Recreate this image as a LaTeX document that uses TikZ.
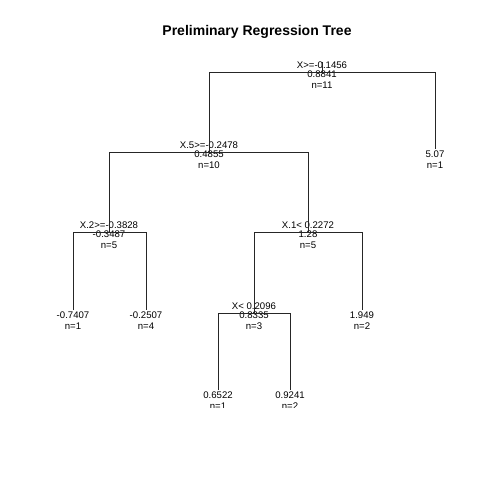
\documentclass[tikz,border=0pt]{standalone}
\usepackage{fontspec}
\setmainfont{Liberation Sans}
\begin{document}
\begin{tikzpicture}[x=1pt,y=-1pt,
  lab/.style={font=\fontsize{9.6}{11}\selectfont, anchor=base, inner sep=0pt},
  ttl/.style={font=\fontsize{14}{16}\bfseries\selectfont, anchor=base, inner sep=0pt},
  edge/.style={draw=black!85, line width=1pt}]
\useasboundingbox (0,0) rectangle (480,480);
\fill[white] (0,0) rectangle (480,480);
\node[ttl] (title) at (257,35.7) {Preliminary Regression Tree};
\clip (0,0) rectangle (480,407.5);
% labels
\node[lab] (t0a) at (322,68.5) {X>=-0.1456};
\node[lab] (t0b) at (322,77) {0.8841};
\node[lab] (t0c) at (322,88.5) {n=11};
\node[lab] (t1a) at (209,148.5) {X.5>=-0.2478};
\node[lab] (t1b) at (209,157) {0.4855};
\node[lab] (t1c) at (209,168.5) {n=10};
\node[lab] (t2b) at (435,157) {5.07};
\node[lab] (t2c) at (435,168.5) {n=1};
\node[lab] (t3a) at (109,228.5) {X.2>=-0.3828};
\node[lab] (t3b) at (109,237) {-0.3487};
\node[lab] (t3c) at (109,248.5) {n=5};
\node[lab] (t4a) at (308,228.5) {X.1< 0.2272};
\node[lab] (t4b) at (308,237) {1.28};
\node[lab] (t4c) at (308,248.5) {n=5};
\node[lab] (t5b) at (73,318) {-0.7407};
\node[lab] (t5c) at (73,329.5) {n=1};
\node[lab] (t6b) at (146,318) {-0.2507};
\node[lab] (t6c) at (146,329.5) {n=4};
\node[lab] (t7a) at (254,309.5) {X< 0.2096};
\node[lab] (t7b) at (254,318) {0.8335};
\node[lab] (t7c) at (254,329.5) {n=3};
\node[lab] (t8b) at (362,318) {1.949};
\node[lab] (t8c) at (362,329.5) {n=2};
\node[lab] (t9b) at (218,398) {0.6522};
\node[lab] (t9c) at (218,409.5) {n=1};
\node[lab] (t10b) at (290,398) {0.9241};
\node[lab] (t10c) at (290,409.5) {n=2};
% node positions
\coordinate (root) at (322.5,72.5);
\coordinate (rootTop) at (322.5,62);
\coordinate (x5) at (209.5,152.5);
\coordinate (l507) at (435.5,149);
\coordinate (x2) at (109.5,232.5);
\coordinate (x1) at (308.5,232.5);
\coordinate (la) at (73.5,310);
\coordinate (lb) at (146.5,310);
\coordinate (xl) at (254.5,313.5);
\coordinate (lc) at (362.5,310);
\coordinate (ld) at (218.5,390);
\coordinate (le) at (290.5,390);
% connectors
\draw[edge] (rootTop) -- (root);
\draw[edge] (x5) |- (root) -| (l507);
\draw[edge] (x2) |- (x5) -| (x1);
\draw[edge] (la) |- (x2) -| (lb);
\draw[edge] (xl) |- (x1) -| (lc);
\draw[edge] (ld) |- (xl) -| (le);
\end{tikzpicture}
\end{document}
